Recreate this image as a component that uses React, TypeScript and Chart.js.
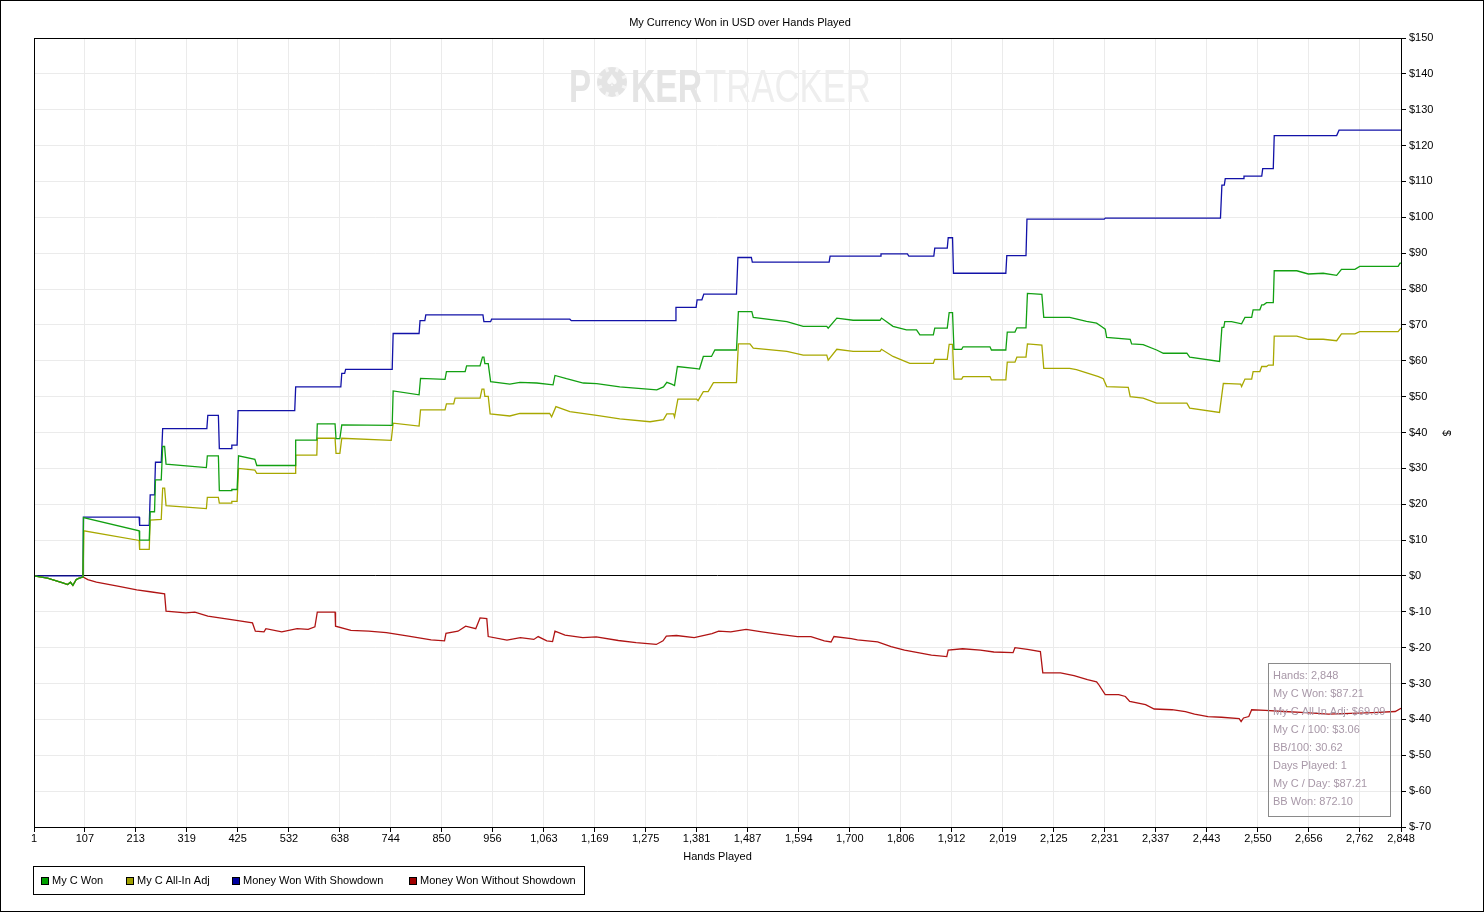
import React, { useEffect, useRef } from "react";
import { Chart, registerables } from "chart.js";

Chart.register(...registerables);

const chartTitle = "My Currency Won in USD over Hands Played";
const xAxisTitle = "Hands Played";
const yAxisTitle = "$";
const xTickValues = [1, 107, 213, 319, 425, 532, 638, 744, 850, 956, 1063, 1169, 1275, 1381, 1487, 1594, 1700, 1806, 1912, 2019, 2125, 2231, 2337, 2443, 2550, 2656, 2762, 2848];
const yMin = -70;
const yMax = 150;
const yStep = 10;

const seriesNames = ["My C Won", "My C All-In Adj", "Money Won With Showdown", "Money Won Without Showdown"];
const seriesColors = ["#12a012", "#a8a800", "#1212a8", "#b01414"];
const legendSwatch = ["#00a000", "#a0a000", "#0000a0", "#a00000"];

const statsLines = [
  "Hands: 2,848",
  "My C Won: $87.21",
  "My C All-In Adj: $69.09",
  "My C / 100: $3.06",
  "BB/100: 30.62",
  "Days Played: 1",
  "My C / Day: $87.21",
  "BB Won: 872.10",
];

// [hand, value]
const myCWon: [number, number][] = [
  [1, 0], [29, -0.6], [61, -1.9], [71, -2.4], [77, -1.75], [82, -2.6], [89, -1], [94, -0.7], [100, -0.4], [103, -0.3],
  [104, 16.3], [220, 12.6], [221, 10], [241, 10], [243, 17.9], [252, 17.9], [254, 26.8], [266, 26.8], [269, 36.1], [273, 36.1],
  [276, 31.2], [360, 30.2], [362, 33.5], [385, 33.5], [387, 23.8], [412, 23.8], [413, 24.1], [424, 24.1], [427, 33.5], [461, 32.5],
  [465, 30.8], [545, 30.8], [546, 37.9], [590, 37.9], [591, 42.4], [628, 42.4], [630, 38.3], [638, 38.3], [642, 42.1], [747, 42.0],
  [749, 51.6], [803, 50.5], [806, 55.1], [857, 54.8], [860, 57], [899, 57], [902, 58.6], [930, 58.6], [935, 61], [938, 61],
  [940, 59.2], [947, 59.2], [952, 54.2], [992, 53.5], [1013, 54], [1048, 53.8], [1082, 53.3], [1086, 55.9], [1110, 55], [1145, 53.8],
  [1173, 53.6], [1221, 52.7], [1298, 51.9], [1312, 52.7], [1319, 54], [1329, 53.5], [1335, 53.1], [1341, 58.4], [1381, 57.8], [1387, 57.7],
  [1395, 61.2], [1412, 61.2], [1419, 63], [1464, 63], [1468, 73.7], [1496, 73.7], [1499, 72.1], [1569, 70.9], [1603, 69.6], [1652, 69.6],
  [1655, 69.1], [1673, 71.9], [1707, 71.3], [1763, 71.3], [1766, 71.9], [1790, 69.6], [1818, 68.6], [1839, 68.6], [1846, 67.2], [1874, 67.2],
  [1877, 69.1], [1903, 69.1], [1907, 73.4], [1914, 73.4], [1917, 63.2], [1933, 63.2], [1936, 63.9], [1992, 63.9], [1995, 63], [2025, 63],
  [2028, 68], [2044, 68], [2048, 69.2], [2067, 69.2], [2070, 78.8], [2100, 78.5], [2104, 72.1], [2158, 72.1], [2193, 71], [2214, 70.5],
  [2225, 69.5], [2232, 68.8], [2235, 66.5], [2284, 66], [2287, 64.7], [2311, 64.5], [2339, 63], [2353, 62.1], [2402, 62.1], [2408, 61],
  [2470, 59.8], [2475, 69.3], [2479, 69.3], [2481, 70.9], [2495, 70.9], [2516, 70.3], [2523, 72.1], [2537, 72.1], [2540, 74.2], [2554, 74.2],
  [2558, 75.6], [2562, 75.6], [2568, 76.2], [2582, 76.2], [2584, 85.1], [2631, 85.1], [2655, 84.2], [2686, 84.4], [2714, 83.8], [2724, 85.5],
  [2752, 85.5], [2762, 86.3], [2842, 86.3], [2846, 87.2], [2848, 87.21],
];

const myCAllInAdj: [number, number][] = [
  [1, 0], [29, -0.6], [61, -1.9], [71, -2.4], [77, -1.75], [82, -2.6], [89, -1], [94, -0.7], [100, -0.4], [103, -0.3],
  [105, 12.6], [220, 9.9], [221, 7.4], [241, 7.4], [243, 15.6], [266, 15.8], [269, 24.5], [273, 24.5], [276, 19.6], [360, 18.8],
  [362, 21.9], [385, 21.9], [387, 20.3], [412, 20.3], [413, 20.8], [424, 20.8], [427, 30], [461, 29.5], [465, 28.6], [545, 28.6],
  [546, 33.7], [590, 33.7], [591, 38.4], [628, 38.4], [630, 34.2], [638, 34.2], [642, 38.4], [745, 37.8], [749, 42.6], [803, 41.8],
  [806, 46.3], [857, 46.3], [860, 48], [875, 48], [878, 49.6], [930, 49.6], [934, 52.1], [938, 52.1], [940, 50.1], [947, 50.1],
  [951, 45.2], [992, 44.6], [1013, 45.3], [1075, 45.3], [1079, 44.4], [1088, 47.2], [1117, 45.8], [1173, 44.8], [1221, 43.8], [1284, 43],
  [1312, 43.6], [1319, 45.2], [1333, 45.2], [1335, 44.3], [1342, 49.3], [1381, 49.3], [1384, 48.9], [1395, 51.4], [1405, 51.4], [1416, 53.9],
  [1464, 53.9], [1468, 64.7], [1492, 64.7], [1499, 63.5], [1569, 62.6], [1603, 61.6], [1652, 61.6], [1655, 60.2], [1673, 63.2], [1707, 62.6],
  [1763, 62.6], [1766, 63.2], [1790, 61.2], [1825, 59.3], [1874, 59.3], [1877, 60.4], [1903, 60.4], [1907, 64.6], [1914, 64.6], [1917, 54.9],
  [1933, 54.9], [1936, 55.6], [1992, 55.6], [1995, 54.7], [2025, 54.7], [2028, 59.6], [2044, 59.6], [2048, 61], [2067, 61], [2070, 64.7],
  [2100, 64.4], [2104, 57.9], [2158, 57.9], [2172, 57.5], [2218, 55.6], [2228, 55], [2235, 52.8], [2280, 52.6], [2284, 50], [2311, 49.6],
  [2339, 48.2], [2402, 48.2], [2408, 46.8], [2470, 45.6], [2478, 53.7], [2514, 53.5], [2516, 52.8], [2523, 54.9], [2537, 54.9], [2540, 57],
  [2554, 57], [2558, 58.4], [2568, 58.4], [2572, 58.8], [2582, 58.8], [2584, 66.9], [2631, 66.9], [2655, 66], [2686, 66], [2714, 65.6],
  [2724, 67.5], [2752, 67.5], [2762, 68.1], [2842, 68.1], [2846, 68.8], [2848, 69.09],
];

const wonWithShowdown: [number, number][] = [
  [1, 0], [103, 0], [104, 16.4], [220, 16.4], [221, 14.1], [241, 14.1], [243, 22.6], [252, 22.6], [254, 31.7], [266, 31.7],
  [269, 41.1], [361, 41.1], [363, 44.8], [385, 44.8], [387, 35.5], [412, 35.5], [413, 36.5], [424, 36.5], [426, 46.1], [544, 46.1],
  [546, 52.7], [640, 52.7], [642, 56.5], [648, 56.5], [650, 57.6], [747, 57.6], [749, 67.6], [803, 67.6], [805, 71.2], [815, 71.2],
  [817, 72.8], [936, 72.8], [938, 70.9], [952, 70.9], [954, 71.6], [1117, 71.6], [1120, 71.2], [1336, 71.2], [1338, 74.9], [1380, 74.9],
  [1382, 77], [1392, 77], [1396, 78.6], [1464, 78.6], [1467, 88.8], [1495, 88.8], [1497, 87.5], [1657, 87.5], [1659, 89.2], [1763, 89.2],
  [1765, 89.8], [1820, 89.8], [1823, 89.2], [1875, 89.2], [1877, 91.4], [1903, 91.4], [1905, 94.3], [1914, 94.3], [1916, 84.4], [2025, 84.4],
  [2027, 89.3], [2067, 89.3], [2069, 99.5], [2230, 99.5], [2232, 99.8], [2472, 99.8], [2475, 109], [2480, 109], [2482, 110.8], [2519, 110.8],
  [2521, 111.5], [2558, 111.5], [2560, 113.6], [2582, 113.6], [2584, 122.8], [2714, 122.8], [2719, 124.3], [2848, 124.3],
];

const wonWithoutShowdown: [number, number][] = [
  [1, 0], [29, -0.6], [61, -1.9], [71, -2.4], [77, -1.75], [82, -2.6], [89, -1], [94, -0.7], [100, -0.4], [103, -0.3],
  [113, -1], [131, -1.7], [178, -2.9], [215, -3.9], [243, -4.4], [273, -5], [276, -9.8], [317, -10.3], [336, -10.1], [363, -11.2],
  [419, -12.3], [456, -13.1], [462, -15.4], [480, -15.6], [484, -14.7], [517, -15.6], [549, -14.7], [572, -14.9], [586, -14.2], [591, -10.1],
  [628, -10.1], [629, -14], [661, -15.2], [698, -15.4], [735, -15.8], [781, -16.8], [828, -17.8], [856, -18.1], [859, -16], [884, -15.4],
  [900, -14], [921, -14.7], [930, -11.7], [944, -11.9], [947, -16.9], [986, -17.9], [1014, -17.2], [1042, -17.7], [1051, -16.9], [1069, -18.1],
  [1081, -18.3], [1086, -15.4], [1107, -16.5], [1144, -17.2], [1172, -17], [1218, -18], [1255, -18.6], [1297, -19.1], [1311, -18.1], [1318, -16.8],
  [1339, -16.6], [1376, -17.2], [1413, -16.1], [1427, -15.4], [1452, -15.6], [1484, -14.9], [1517, -15.6], [1554, -16.3], [1591, -16.9], [1619, -16.9],
  [1647, -18.1], [1661, -18.4], [1667, -16.9], [1703, -17.5], [1716, -17.8], [1758, -18.4], [1786, -19.7], [1814, -20.7], [1842, -21.4], [1870, -22.1],
  [1902, -22.5], [1905, -20.7], [1935, -20.3], [1972, -20.7], [2000, -21.2], [2040, -21.4], [2044, -20], [2070, -20.5], [2097, -21.1], [2102, -27],
  [2139, -27], [2167, -27.8], [2195, -28.9], [2214, -29.5], [2218, -30.2], [2232, -33.1], [2260, -33.1], [2274, -33.6], [2283, -35], [2316, -35.9],
  [2334, -37.1], [2371, -37.3], [2399, -37.8], [2418, -38.5], [2446, -39.2], [2474, -39.4], [2511, -39.8], [2515, -40.6], [2520, -39.6], [2531, -39.2],
  [2537, -37.3], [2566, -37.5], [2604, -37.8], [2650, -38.1], [2697, -38.5], [2743, -38.3], [2789, -38.1], [2836, -37.8], [2848, -36.9],
];

const allSeries = [myCWon, myCAllInAdj, wonWithShowdown, wonWithoutShowdown];

const FONT = '11px "Liberation Sans", Arial, sans-serif';

function drawScaledText(ctx: any, text: string, x: number, y: number, font: string, color: string, sx: number) {
  ctx.save();
  ctx.translate(x, y);
  ctx.scale(sx, 1);
  ctx.font = font;
  ctx.fillStyle = color;
  ctx.fillText(text, 0, 0);
  ctx.restore();
}

const decorPlugin = {
  id: "decor",
  beforeDraw(chart: any) {
    const { ctx, width, height } = chart;
    ctx.save();
    ctx.fillStyle = "#ffffff";
    ctx.fillRect(0, 0, width, height);
    ctx.restore();
  },
  beforeDatasetsDraw(chart: any) {
    const { ctx, chartArea } = chart;
    ctx.save();
    ctx.beginPath();
    ctx.rect(chartArea.left, chartArea.top, chartArea.right - chartArea.left, chartArea.bottom - chartArea.top);
    ctx.clip();
    ctx.textBaseline = "alphabetic";
    ctx.textAlign = "left";
    const bold = 'bold 46px "Liberation Sans", Arial, sans-serif';
    const reg = '46px "Liberation Sans", Arial, sans-serif';
    const grayA = "#e4e4e4";
    drawScaledText(ctx, "P", 569, 102, bold, grayA, 0.72);
    // chip as the "O"
    ctx.fillStyle = grayA;
    ctx.beginPath();
    ctx.arc(612, 82, 15, 0, Math.PI * 2);
    ctx.fill();
    ctx.strokeStyle = "#f6f6f6";
    ctx.lineWidth = 3;
    for (let i = 0; i < 8; i++) {
      const a = (i * Math.PI) / 4 + Math.PI / 8;
      ctx.beginPath();
      ctx.moveTo(612 + Math.cos(a) * 11, 82 + Math.sin(a) * 11);
      ctx.lineTo(612 + Math.cos(a) * 15.5, 82 + Math.sin(a) * 15.5);
      ctx.stroke();
    }
    ctx.fillStyle = "#fafafa";
    ctx.font = '16px "DejaVu Sans", sans-serif';
    ctx.textAlign = "center";
    ctx.textBaseline = "middle";
    ctx.fillText("\u2660", 612, 82);
    ctx.textAlign = "left";
    ctx.textBaseline = "alphabetic";
    drawScaledText(ctx, "KER", 631, 102, bold, grayA, 0.73);
    drawScaledText(ctx, "TRACKER", 705, 102, reg, "#eeeeee", 0.755);
    ctx.restore();
  },
  afterDraw(chart: any) {
    const { ctx, chartArea, width, height } = chart;
    ctx.save();
    ctx.strokeStyle = "#000";
    ctx.lineWidth = 1;
    ctx.strokeRect(0.5, 0.5, width - 1, height - 1);
    ctx.strokeRect(
      Math.round(chartArea.left) + 0.5,
      Math.round(chartArea.top) + 0.5,
      Math.round(chartArea.right - chartArea.left),
      Math.round(chartArea.bottom - chartArea.top)
    );
    ctx.fillStyle = "#000";
    ctx.font = FONT;
    ctx.textAlign = "center";
    ctx.textBaseline = "middle";
    ctx.fillText(chartTitle, 740, 23);
    ctx.fillText(xAxisTitle, (chartArea.left + chartArea.right) / 2, 857);
    ctx.save();
    ctx.translate(1446, 433);
    ctx.rotate(Math.PI / 2);
    ctx.fillText(yAxisTitle, 0, 0);
    ctx.restore();

    // legend
    ctx.strokeRect(33.5, 866.5, 551, 28);
    const swatchX = [41, 126, 232, 409];
    ctx.textAlign = "left";
    seriesNames.forEach((name, i) => {
      ctx.fillStyle = legendSwatch[i];
      ctx.fillRect(swatchX[i], 877, 7, 7);
      ctx.strokeStyle = "#000";
      ctx.strokeRect(swatchX[i] + 0.5, 877.5, 7, 7);
      ctx.fillStyle = "#000";
      ctx.fillText(name, swatchX[i] + 11, 881);
    });

    // stats box
    ctx.strokeStyle = "#8a8a8a";
    ctx.strokeRect(1268.5, 663.5, 122, 153);
    ctx.fillStyle = "#a898a8";
    statsLines.forEach((line, i) => {
      ctx.fillText(line, 1273, 675.5 + i * 18);
    });
    ctx.restore();
  },
};

export default function App() {
  const canvasRef = useRef<HTMLCanvasElement>(null);

  useEffect(() => {
    document.body.style.margin = "0";
    const canvas = canvasRef.current;
    if (!canvas) return;
    const chart = new Chart(canvas, {
      type: "line",
      data: {
        datasets: allSeries.map((s, i) => ({
          label: seriesNames[i],
          data: s.map(([x, y]) => ({ x, y })),
          borderColor: seriesColors[i],
          backgroundColor: seriesColors[i],
          borderWidth: 1.3,
          pointRadius: 0,
          tension: 0,
          fill: false,
        })),
      },
      options: {
        animation: false,
        responsive: false,
        parsing: false as any,
        normalized: true,
        layout: { padding: { left: 34, top: 38, right: 0, bottom: 0 } },
        plugins: {
          legend: { display: false },
          title: { display: false },
          tooltip: { enabled: false },
        },
        scales: {
          x: {
            type: "linear",
            min: 1,
            max: 2848,
            afterBuildTicks: (scale: any) => {
              scale.ticks = xTickValues.map((v) => ({ value: v }));
            },
            afterFit: (scale: any) => {
              scale.height = 85;
            },
            grid: {
              color: "#ebebeb",
              tickColor: "#000",
              tickLength: 5,
              drawOnChartArea: true,
            },
            border: { display: true, color: "#000" },
            ticks: {
              autoSkip: false,
              maxRotation: 0,
              minRotation: 0,
              padding: 0,
              color: "#000",
              font: { family: '"Liberation Sans", Arial, sans-serif', size: 11 },
              callback: (v: any) => Number(v).toLocaleString("en-US"),
            },
          },
          y: {
            type: "linear",
            position: "right",
            min: yMin,
            max: yMax,
            afterFit: (scale: any) => {
              scale.width = 83;
            },
            grid: {
              color: (c: any) => (c.tick && c.tick.value === 0 ? "#000" : "#ebebeb"),
              tickColor: "#000",
              tickLength: 5,
            },
            border: { display: true, color: "#000" },
            ticks: {
              stepSize: yStep,
              padding: 3,
              color: "#000",
              font: { family: '"Liberation Sans", Arial, sans-serif', size: 11 },
              callback: (v: any) => "$" + v,
            },
          },
        },
      },
      plugins: [decorPlugin],
    });
    return () => chart.destroy();
  }, []);

  return (
    <div style={{ width: 1484, height: 912 }}>
      <canvas ref={canvasRef} width={1484} height={912} style={{ display: "block" }} />
    </div>
  );
}
